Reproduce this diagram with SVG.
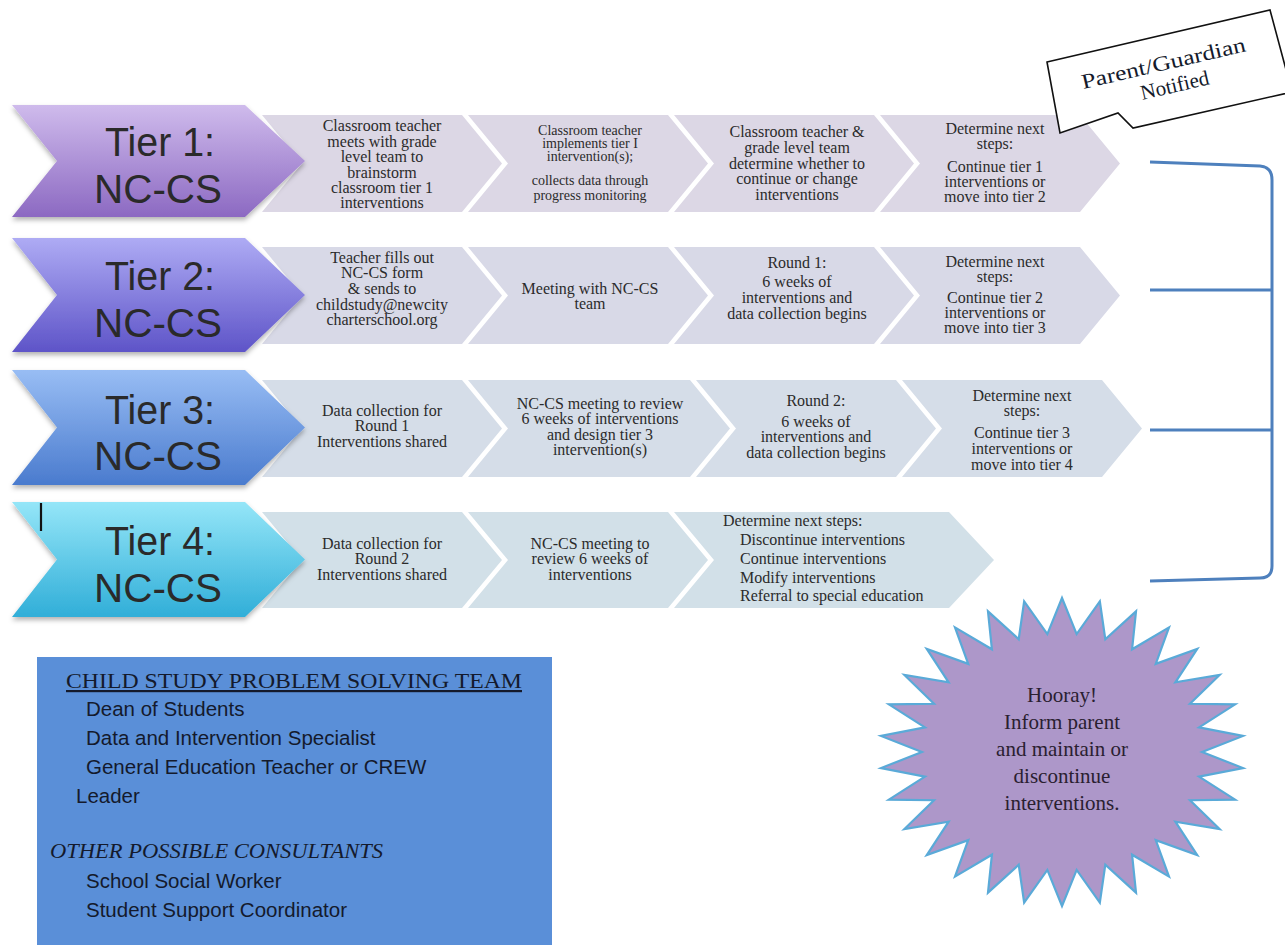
<svg xmlns="http://www.w3.org/2000/svg" width="1285" height="945" viewBox="0 0 1285 945">
<defs>
<linearGradient id="g1" x1="0" y1="0" x2="0" y2="1"><stop offset="0" stop-color="#cfbbec"/><stop offset="1" stop-color="#8c69c2"/></linearGradient>
<linearGradient id="g2" x1="0" y1="0" x2="0" y2="1"><stop offset="0" stop-color="#aeabf4"/><stop offset="1" stop-color="#5e54c8"/></linearGradient>
<linearGradient id="g3" x1="0" y1="0" x2="0" y2="1"><stop offset="0" stop-color="#98bdf4"/><stop offset="1" stop-color="#4a7bce"/></linearGradient>
<linearGradient id="g4" x1="0" y1="0" x2="0" y2="1"><stop offset="0" stop-color="#95e6f8"/><stop offset="1" stop-color="#30aed8"/></linearGradient>
<filter id="sh" x="-10%" y="-10%" width="120%" height="130%"><feDropShadow dx="0" dy="3" stdDeviation="2.5" flood-color="#000" flood-opacity="0.3"/></filter>
</defs>
<style>
.tier{font-family:"Liberation Sans",Arial,sans-serif;font-size:40px;fill:#2a2a2a;text-anchor:middle}
.t{font-family:"Liberation Serif","Times New Roman",serif;font-size:16px;fill:#2b2b2b;text-anchor:middle}
.ts{font-size:14px}
.tl{font-family:"Liberation Serif","Times New Roman",serif;font-size:16px;fill:#2b2b2b}
.r1{fill:#dcd7e5}.r2{fill:#d8d9e7}.r3{fill:#d5dde8}.r4{fill:#d2e0e8}
.br{fill:none;stroke:#4e80bd;stroke-width:3}
.team{font-family:"Liberation Sans",Arial,sans-serif;font-size:20.5px;fill:#141a2c}
.ser{font-family:"Liberation Serif","Times New Roman",serif;fill:#141a2c}
.star{font-family:"Liberation Serif","Times New Roman",serif;font-size:21px;fill:#2a2030;text-anchor:middle}
</style>

<!-- Row 1 -->
<g id="row1-steps">
<polygon class="r1" points="262,115 462,115 502,163.5 462,212 262,212 302,163.5"/>
<polygon class="r1" points="468,115 668,115 708,163.5 668,212 468,212 508,163.5"/>
<polygon class="r1" points="674,115 874,115 914,163.5 874,212 674,212 714,163.5"/>
<polygon class="r1" points="880,115 1080,115 1120,163.5 1080,212 880,212 920,163.5"/>
</g>
<g id="tier1">
<polygon fill="url(#g1)" filter="url(#sh)" points="12,105 245,105 305,161 245,217 12,217 57,161"/>
<text class="tier" x="160" y="156" textLength="110" lengthAdjust="spacingAndGlyphs">Tier 1:</text>
<text class="tier" x="158" y="203" textLength="128" lengthAdjust="spacingAndGlyphs">NC-CS</text>
</g>
<g id="t1s1"><text class="t" x="382" y="131">Classroom teacher</text><text class="t" x="382" y="147">meets with grade</text><text class="t" x="382" y="162">level team to</text><text class="t" x="382" y="178">brainstorm</text><text class="t" x="382" y="193">classroom tier 1</text><text class="t" x="382" y="208">interventions</text></g>
<g id="t1s2"><text class="t ts" x="590" y="135">Classroom teacher</text><text class="t ts" x="590" y="148">implements tier I</text><text class="t ts" x="590" y="161">intervention(s);</text><text class="t ts" x="590" y="185">collects data through</text><text class="t ts" x="590" y="200">progress monitoring</text></g>
<g id="t1s3"><text class="t" x="797" y="137">Classroom teacher &amp;</text><text class="t" x="797" y="153">grade level team</text><text class="t" x="797" y="169">determine whether to</text><text class="t" x="797" y="184">continue or change</text><text class="t" x="797" y="200">interventions</text></g>
<g id="t1s4"><text class="t" x="995" y="134">Determine next</text><text class="t" x="995" y="149">steps:</text><text class="t" x="995" y="172">Continue tier 1</text><text class="t" x="995" y="187">interventions or</text><text class="t" x="995" y="202">move into tier 2</text></g>

<!-- Row 2 -->
<g id="row2-steps">
<polygon class="r2" points="262,247 462,247 502,295.5 462,344 262,344 302,295.5"/>
<polygon class="r2" points="468,247 668,247 708,295.5 668,344 468,344 508,295.5"/>
<polygon class="r2" points="674,247 874,247 914,295.5 874,344 674,344 714,295.5"/>
<polygon class="r2" points="880,247 1080,247 1120,295.5 1080,344 880,344 920,295.5"/>
</g>
<g id="tier2">
<polygon fill="url(#g2)" filter="url(#sh)" points="12,238 245,238 305,295 245,352 12,352 57,295"/>
<text class="tier" x="160" y="290" textLength="110" lengthAdjust="spacingAndGlyphs">Tier 2:</text>
<text class="tier" x="158" y="337" textLength="128" lengthAdjust="spacingAndGlyphs">NC-CS</text>
</g>
<g id="t2s1"><text class="t" x="382" y="263">Teacher fills out</text><text class="t" x="382" y="278">NC-CS form</text><text class="t" x="382" y="294">&amp; sends to</text><text class="t" x="382" y="310">childstudy@newcity</text><text class="t" x="382" y="325">charterschool.org</text></g>
<g id="t2s2"><text class="t" x="590" y="294">Meeting with NC-CS</text><text class="t" x="590" y="309">team</text></g>
<g id="t2s3"><text class="t" x="797" y="268">Round 1:</text><text class="t" x="797" y="287">6 weeks of</text><text class="t" x="797" y="303">interventions and</text><text class="t" x="797" y="319">data collection begins</text></g>
<g id="t2s4"><text class="t" x="995" y="267">Determine next</text><text class="t" x="995" y="282">steps:</text><text class="t" x="995" y="303">Continue tier 2</text><text class="t" x="995" y="318">interventions or</text><text class="t" x="995" y="333">move into tier 3</text></g>

<!-- Row 3 -->
<g id="row3-steps">
<polygon class="r3" points="262,380 462,380 502,428.5 462,477 262,477 302,428.5"/>
<polygon class="r3" points="468,380 690,380 730,428.5 690,477 468,477 508,428.5"/>
<polygon class="r3" points="696,380 896,380 936,428.5 896,477 696,477 736,428.5"/>
<polygon class="r3" points="902,380 1102,380 1142,428.5 1102,477 902,477 942,428.5"/>
</g>
<g id="tier3">
<polygon fill="url(#g3)" filter="url(#sh)" points="12,370 245,370 305,427.5 245,485 12,485 57,427.5"/>
<text class="tier" x="160" y="424" textLength="110" lengthAdjust="spacingAndGlyphs">Tier 3:</text>
<text class="tier" x="158" y="470" textLength="128" lengthAdjust="spacingAndGlyphs">NC-CS</text>
</g>
<g id="t3s1"><text class="t" x="382" y="416">Data collection for</text><text class="t" x="382" y="431">Round 1</text><text class="t" x="382" y="447">Interventions shared</text></g>
<g id="t3s2"><text class="t" x="600" y="409">NC-CS meeting to review</text><text class="t" x="600" y="424">6 weeks of interventions</text><text class="t" x="600" y="440">and design tier 3</text><text class="t" x="600" y="455">intervention(s)</text></g>
<g id="t3s3"><text class="t" x="816" y="406">Round 2:</text><text class="t" x="816" y="427">6 weeks of</text><text class="t" x="816" y="442">interventions and</text><text class="t" x="816" y="458">data collection begins</text></g>
<g id="t3s4"><text class="t" x="1022" y="401">Determine next</text><text class="t" x="1022" y="416">steps:</text><text class="t" x="1022" y="438">Continue tier 3</text><text class="t" x="1022" y="454">interventions or</text><text class="t" x="1022" y="470">move into tier 4</text></g>

<!-- Row 4 -->
<g id="row4-steps">
<polygon class="r4" points="262,512 462,512 502,560 462,608 262,608 302,560"/>
<polygon class="r4" points="468,512 668,512 708,560 668,608 468,608 508,560"/>
<polygon class="r4" points="674,512 949,512 994,560 949,608 674,608 714,560"/>
</g>
<g id="tier4">
<polygon fill="url(#g4)" filter="url(#sh)" points="12,502 245,502 305,559.5 245,617 12,617 57,559.5"/>
<line x1="41" y1="503" x2="41" y2="531" stroke="#111" stroke-width="2.2"/>
<text class="tier" x="160" y="555" textLength="110" lengthAdjust="spacingAndGlyphs">Tier 4:</text>
<text class="tier" x="158" y="602" textLength="128" lengthAdjust="spacingAndGlyphs">NC-CS</text>
</g>
<g id="t4s1"><text class="t" x="382" y="549">Data collection for</text><text class="t" x="382" y="564">Round 2</text><text class="t" x="382" y="580">Interventions shared</text></g>
<g id="t4s2"><text class="t" x="590" y="549">NC-CS meeting to</text><text class="t" x="590" y="564">review 6 weeks of</text><text class="t" x="590" y="580">interventions</text></g>
<g id="t4s3"><text class="tl" x="723" y="526">Determine next steps:</text><text class="tl" x="740" y="545">Discontinue interventions</text><text class="tl" x="740" y="564">Continue interventions</text><text class="tl" x="740" y="583">Modify interventions</text><text class="tl" x="740" y="601">Referral to special education</text></g>

<!-- Connectors: bracket -->
<g id="connectors">
<path class="br" d="M1150,162 L1260,166 Q1272,167 1272,180 L1272,566 Q1272,578 1260,578 L1150,581"/>
<line class="br" x1="1150" y1="290" x2="1272" y2="290"/>
<line class="br" x1="1150" y1="430" x2="1272" y2="430"/>
</g>

<!-- Callout -->
<g id="callout">
<polygon fill="#fff" stroke="#111" stroke-width="1.6" points="1047,62 1270,10 1292,92 1133,128 1118,113 1060,133"/>
<g transform="translate(1165,70) rotate(-13)">
<text class="ser" x="0" y="0" font-size="21" text-anchor="middle" textLength="168" lengthAdjust="spacingAndGlyphs">Parent/Guardian</text>
<text class="ser" x="6" y="24" font-size="21" text-anchor="middle">Notified</text>
</g>
</g>

<!-- Team box -->
<g id="team">
<rect x="37" y="657" width="515" height="300" fill="#5a8fd8"/>
<text class="ser" x="294" y="688" font-size="22" text-anchor="middle" text-decoration="underline" textLength="456" lengthAdjust="spacingAndGlyphs">CHILD STUDY PROBLEM SOLVING TEAM</text>
<text class="team" x="86" y="716">Dean of Students</text>
<text class="team" x="86" y="745">Data and Intervention Specialist</text>
<text class="team" x="86" y="774">General Education Teacher or CREW</text>
<text class="team" x="76" y="803">Leader</text>
<text class="ser" x="50" y="858" font-size="20" font-style="italic" textLength="333" lengthAdjust="spacingAndGlyphs">OTHER POSSIBLE CONSULTANTS</text>
<text class="team" x="86" y="888">School Social Worker</text>
<text class="team" x="86" y="917">Student Support Coordinator</text>
</g>

<!-- Starburst -->
<g id="hooray">
<polygon transform="translate(1062,752) scale(1.82,1.54)" fill="#ad97c9" stroke="#5aaad8" stroke-width="2.2" vector-effect="non-scaling-stroke" stroke-linejoin="miter" points="0,-100 8.05,-76.58 20.79,-97.81 23.79,-73.23 40.67,-91.35 38.5,-66.68 58.78,-80.9 51.52,-57.22 74.31,-66.91 62.29,-45.26 86.6,-50 70.34,-31.32 95.11,-30.9 75.32,-16.01 99.45,-10.45 77,0 99.45,10.45 75.32,16.01 95.11,30.9 70.34,31.32 86.6,50 62.29,45.26 74.31,66.91 51.52,57.22 58.78,80.9 38.5,66.68 40.67,91.35 23.79,73.23 20.79,97.81 8.05,76.58 0,100 -8.05,76.58 -20.79,97.81 -23.79,73.23 -40.67,91.35 -38.5,66.68 -58.78,80.9 -51.52,57.22 -74.31,66.91 -62.29,45.26 -86.6,50 -70.34,31.32 -95.11,30.9 -75.32,16.01 -99.45,10.45 -77,0 -99.45,-10.45 -75.32,-16.01 -95.11,-30.9 -70.34,-31.32 -86.6,-50 -62.29,-45.26 -74.31,-66.91 -51.52,-57.22 -58.78,-80.9 -38.5,-66.68 -40.67,-91.35 -23.79,-73.23 -20.79,-97.81 -8.05,-76.58"/>
<text class="star" x="1062" y="702">Hooray!</text>
<text class="star" x="1062" y="729">Inform parent</text>
<text class="star" x="1062" y="756">and maintain or</text>
<text class="star" x="1062" y="783">discontinue</text>
<text class="star" x="1062" y="810">interventions.</text>
</g>
</svg>
